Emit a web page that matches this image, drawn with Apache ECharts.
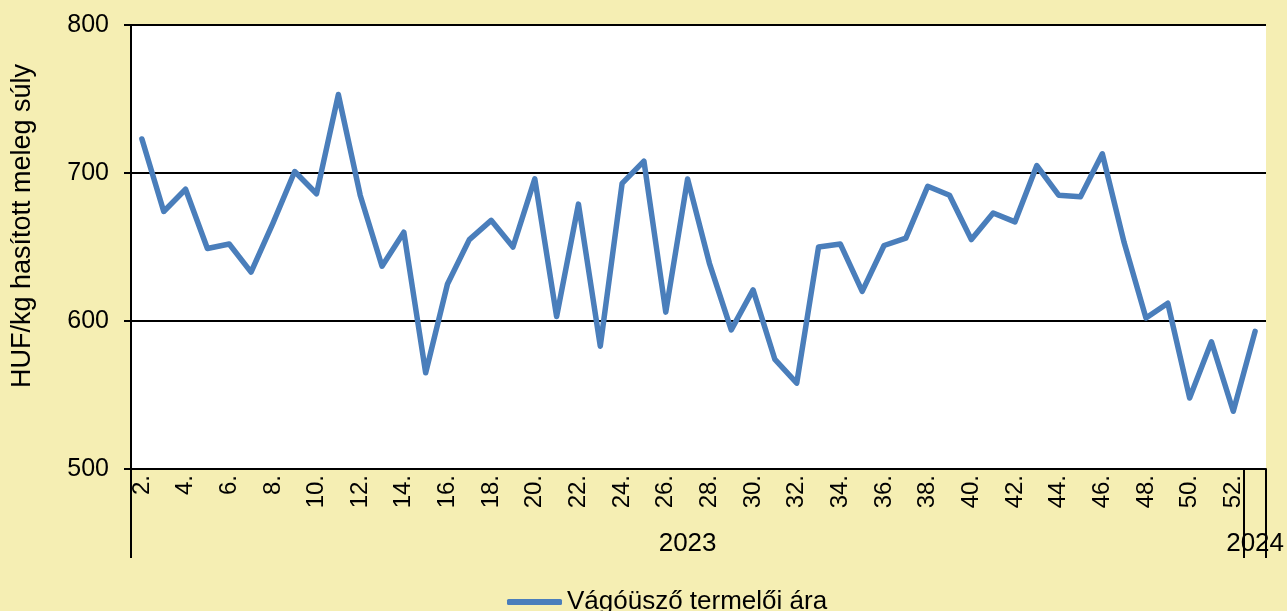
<!DOCTYPE html>
<html>
<head>
<meta charset="utf-8">
<script src="https://cdn.jsdelivr.net/npm/echarts@6/dist/echarts.min.js"></script>
<style>
html,body{margin:0;padding:0;background:#F5EEB3;}
#chart{width:1287px;height:611px;}
</style>
</head>
<body>
<div id="chart"></div>
<script>
// Week numbers (2023 weeks 2..52, then 2024 week 1)
const weeks = [2,3,4,5,6,7,8,9,10,11,12,13,14,15,16,17,18,19,20,21,22,23,24,25,26,27,28,29,30,31,32,33,34,35,36,37,38,39,40,41,42,43,44,45,46,47,48,49,50,51,52,1];
const years = [2023,2023,2023,2023,2023,2023,2023,2023,2023,2023,2023,2023,2023,2023,2023,2023,2023,2023,2023,2023,2023,2023,2023,2023,2023,2023,2023,2023,2023,2023,2023,2023,2023,2023,2023,2023,2023,2023,2023,2023,2023,2023,2023,2023,2023,2023,2023,2023,2023,2023,2023,2024];
// Vágóüsző termelői ára (HUF/kg hasított meleg súly)
const prices = [723,674,689,649,652,633,666,701,686,753,685,637,660,565,625,655,668,650,696,603,679,583,693,708,606,696,639,594,621,574,558,650,652,620,651,656,691,685,655,673,667,705,685,684,713,653,602,612,548,586,539,593];
const seriesName = 'Vágóüsző termelői ára';
const yAxisName = 'HUF/kg hasított meleg súly';
const yMin = 500, yMax = 800, yStep = 100;

const weekLabels = weeks.map(w => w + '.');
// year group boundaries and centre labels
const yearStart = [];
const yearLabels = weekLabels.map(() => '');
(function(){
  let s = 0;
  for (let i = 1; i <= years.length; i++) {
    if (i === years.length || years[i] !== years[s]) {
      yearStart.push(s);
      yearLabels[Math.floor((s + i - 1) / 2)] = String(years[s]);
      s = i;
    }
  }
})();

const FONT = '"Liberation Sans", Arial, sans-serif';
const chart = echarts.init(document.getElementById('chart'), null, {renderer: 'canvas'});
chart.setOption({
  animation: false,
  backgroundColor: '#F5EEB3',
  textStyle: {fontFamily: FONT, color: '#000'},
  grid: {left: 131, right: 19, top: 25, bottom: 142, show: true, backgroundColor: '#FFFFFF', borderWidth: 0},
  legend: {
    left: 502, top: 584,
    icon: 'roundRect', itemWidth: 55, itemHeight: 6,
    textStyle: {fontFamily: FONT, fontSize: 26, color: '#000'},
    data: [seriesName]
  },
  xAxis: [{
    type: 'category',
    data: weekLabels,
    boundaryGap: true,
    axisLine: {lineStyle: {color: '#000', width: 2}},
    axisTick: {show: false},
    axisLabel: {interval: 1, rotate: 90, margin: 6, fontFamily: FONT, fontSize: 24, color: '#000'},
    splitLine: {show: false}
  }, {
    type: 'category',
    data: yearLabels,
    position: 'bottom',
    boundaryGap: true,
    axisLine: {show: false},
    axisTick: {show: true, length: 89, interval: (idx) => yearStart.indexOf(idx) >= 0, lineStyle: {color: '#000', width: 2}},
    axisLabel: {interval: 0, margin: 62, fontFamily: FONT, fontSize: 26, color: '#000'},
    splitLine: {show: false}
  }],
  yAxis: {
    type: 'value',
    min: yMin, max: yMax, interval: yStep,
    name: yAxisName,
    nameLocation: 'middle',
    nameGap: 95,
    nameTextStyle: {fontFamily: FONT, fontSize: 27, color: '#000', padding: [0, 0, 0, 42]},
    axisLine: {show: true, lineStyle: {color: '#000', width: 2}},
    axisTick: {show: true, length: 7, lineStyle: {color: '#000', width: 2}},
    axisLabel: {margin: 22, fontFamily: FONT, fontSize: 25, color: '#000'},
    splitLine: {show: true, lineStyle: {color: '#000', width: 2}}
  },
  series: [{
    name: seriesName,
    type: 'line',
    data: prices,
    xAxisIndex: 0,
    symbol: 'none',
    smooth: false,
    color: '#4A7EBB',
    lineStyle: {color: '#4A7EBB', width: 5.5, cap: 'round', join: 'round'}
  }]
});
</script>
</body>
</html>
